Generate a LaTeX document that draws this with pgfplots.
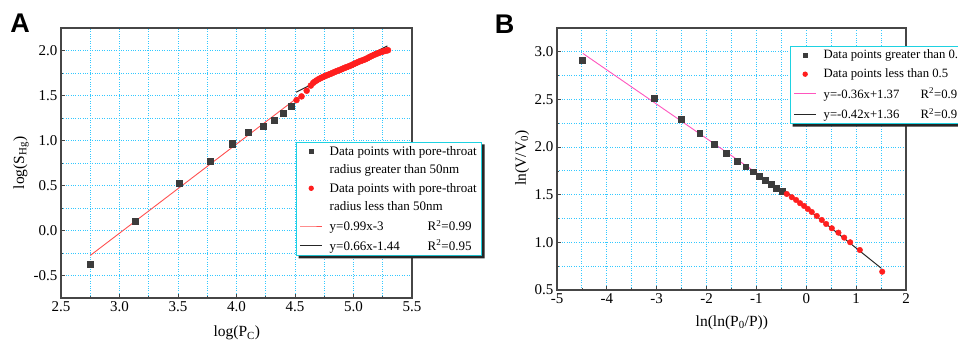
\documentclass[border=0pt]{standalone}
\usepackage{fontspec}
\setmainfont{Liberation Serif}
\newfontfamily\lsans{Liberation Sans}
\usepackage{pgfplots}
\pgfplotsset{compat=1.18}
\usetikzlibrary{calc}
\definecolor{gridc}{RGB}{50,200,255}
\definecolor{legc}{RGB}{30,210,225}
\definecolor{sqc}{RGB}{60,60,60}
\definecolor{redc}{RGB}{255,30,30}
\definecolor{redl}{RGB}{255,80,80}
\definecolor{pinkl}{RGB}{255,85,190}
\definecolor{axc}{RGB}{70,70,70}
\pgfplotsset{
  myax/.style={
    scale only axis,
    axis line style={line width=1.3pt, draw=axc},
    grid=both,
    major grid style={gridc, dotted, line width=0.9pt},
    minor grid style={gridc, dotted, line width=0.9pt},
    minor tick num=1,
    tick pos=left,
    tick align=inside,
    tick style={axc, line width=0.8pt},
    major tick length=4pt, minor tick length=2pt,
    ticklabel style={font=\fontsize{15}{15}\selectfont},
    label style={font=\fontsize{15.5}{16}\selectfont},
    legend style={draw=legc, line width=1.1pt, fill=white,
      font=\fontsize{13}{15}\selectfont, inner xsep=3pt, inner ysep=1.5pt,
      column sep=5pt, row sep=4pt,
      cells={anchor=west}},
  },
  limg/.style={legend image code/.code={\draw[mark repeat=2,mark phase=2,##1,mark size=2.1pt] plot coordinates {(0pt,0pt) (11pt,0pt) (22pt,0pt)};}},
}
\newcommand{\legshadow}[1]{%
  \fill[black!85] ($(#1.south west)+(2.5pt,0pt)$) -- ($(#1.south west)+(2.5pt,-2.5pt)$)
    -- ($(#1.south east)+(2.5pt,-2.5pt)$) -- ($(#1.north east)+(2.5pt,-2.5pt)$)
    -- ($(#1.north east)+(0pt,-2.5pt)$) -- (#1.south east) -- cycle;}
\begin{document}
\begin{tikzpicture}
\useasboundingbox (0,0) rectangle (958pt,345pt);
% ---------------- Panel A ----------------
\begin{axis}[myax,
  at={(61pt,47pt)}, anchor=south west, width=351pt, height=270pt,
  xmin=2.5, xmax=5.5, ymin=-0.75, ymax=2.25,
  xtick={2.5,3.0,3.5,4.0,4.5,5.0,5.5},
  xticklabels={2.5,3.0,3.5,4.0,4.5,5.0,5.5},
  ytick={-0.5,0,0.5,1.0,1.5,2.0},
  yticklabels={-0.5,0.0,0.5,1.0,1.5,2.0},
  xlabel={log(P\textsubscript{C})},
  ylabel={log(S\textsubscript{Hg})},
  xlabel style={at={(axis description cs:0.501,-0.13)}, anchor=center},
  ylabel style={at={(axis description cs:-0.114,0.5)}, anchor=center},
  legend style={at={(0.67,0.578)}, anchor=north west, name=legA},
]
\addplot[only marks, mark=square*, mark size=3.1pt, color=sqc, limg] coordinates {
(2.748,-0.371) (3.135,0.106) (3.508,0.528) (3.772,0.772) (3.963,0.964)
(4.103,1.090) (4.225,1.157) (4.322,1.227) (4.402,1.305) (4.467,1.382)};
\addlegendentry{Data points with pore-throat}
\addlegendimage{empty legend}
\addlegendentry{radius greater than 50nm}
\addplot[only marks, mark=*, mark size=3pt, color=redc, limg] coordinates {
(4.513,1.449) (4.556,1.490) (4.600,1.553) (4.635,1.610) (4.655,1.640)
(4.670,1.655) (4.685,1.668) (4.700,1.680) (4.715,1.690) (4.730,1.700)
(4.745,1.709) (4.760,1.718) (4.775,1.726) (4.790,1.734) (4.805,1.741)
(4.820,1.750) (4.835,1.759) (4.850,1.767) (4.865,1.775) (4.880,1.782)
(4.895,1.790) (4.910,1.799) (4.925,1.807) (4.940,1.815) (4.955,1.822)
(4.970,1.830) (4.985,1.838) (5.000,1.848) (5.015,1.857) (5.030,1.866)
(5.045,1.875) (5.060,1.883) (5.075,1.890) (5.090,1.897) (5.105,1.905)
(5.120,1.915) (5.135,1.926) (5.150,1.936) (5.165,1.945) (5.180,1.954)
(5.195,1.962) (5.210,1.970) (5.225,1.978) (5.240,1.985) (5.255,1.990)
(5.270,1.996) (5.285,2.000) (5.295,2.003)};
\addlegendentry{Data points with pore-throat}
\addlegendimage{empty legend}
\addlegendentry{radius less than 50nm}
\addplot[redl, line width=0.9pt, limg] coordinates {(2.75,-0.2775) (4.55,1.5045)};
\addlegendentry{\makebox[98pt][l]{y=0.99x-3}R\textsuperscript{2}=0.99}
\addplot[black!85, line width=1pt, limg] coordinates {(4.51,1.5366) (5.29,2.0514)};
\addlegendentry{\makebox[98pt][l]{y=0.66x-1.44}R\textsuperscript{2}=0.95}
\end{axis}
\legshadow{legA}
% ---------------- Panel B ----------------
\begin{axis}[myax,
  at={(557pt,55pt)}, anchor=south west, width=349pt, height=262pt,
  xmin=-5, xmax=2, ymin=0.5, ymax=3.25,
  xtick={-5,-4,-3,-2,-1,0,1,2},
  xticklabels={-5,-4,-3,-2,-1,0,1,2},
  ytick={0.5,1.0,1.5,2.0,2.5,3.0},
  yticklabels={0.5,1.0,1.5,2.0,2.5,3.0},
  xlabel={ln(ln(P\textsubscript{0}/P))},
  ylabel={ln(V/V\textsubscript{0})},
  xlabel style={at={(axis description cs:0.501,-0.126)}, anchor=center},
  ylabel style={at={(axis description cs:-0.1,0.504)}, anchor=center},
  legend style={at={(0.668,0.931)}, anchor=north west, name=legB, row sep=4.6pt, font=\fontsize{12.7}{15}\selectfont},
]
\addplot[pinkl, line width=0.9pt, forget plot] coordinates {(-4.48,2.9828) (-0.45,1.532)};
\addplot[only marks, mark=square*, mark size=2.9pt, color=sqc, limg] coordinates {
(-4.498,2.916) (-3.058,2.510) (-2.515,2.296) (-2.137,2.144) (-1.852,2.030)
(-1.614,1.937) (-1.387,1.852) (-1.215,1.794) (-1.072,1.741) (-0.941,1.693)
(-0.821,1.650) (-0.707,1.608) (-0.597,1.568) (-0.490,1.541)};
\addlegendentry{Data points greater than 0.}
\addplot[only marks, mark=*, mark size=2.8pt, color=redc, limg] coordinates {
(-0.392,1.508) (-0.291,1.474) (-0.205,1.445) (-0.125,1.411) (-0.044,1.382)
(0.030,1.351) (0.110,1.319) (0.211,1.277) (0.311,1.235) (0.398,1.193)
(0.512,1.148) (0.645,1.102) (0.760,1.050) (0.880,1.001) (1.074,0.920)
(1.523,0.692)};
\addlegendentry{Data points less than 0.5}
\addlegendimage{pinkl, line width=0.9pt, limg}
\addlegendentry{\makebox[97pt][l]{y=-0.36x+1.37}R\textsuperscript{2}=0.9}
\addplot[black!85, line width=1pt, limg] coordinates {(-0.45,1.549) (1.50,0.73)};
\addlegendentry{\makebox[97pt][l]{y=-0.42x+1.36}R\textsuperscript{2}=0.9}
\end{axis}
\legshadow{legB}
\node[font=\lsans\bfseries\fontsize{27}{27}\selectfont] at (20pt,322pt) {A};
\node[font=\lsans\bfseries\fontsize{27}{27}\selectfont] at (504.5pt,321pt) {B};
\end{tikzpicture}
\end{document}
